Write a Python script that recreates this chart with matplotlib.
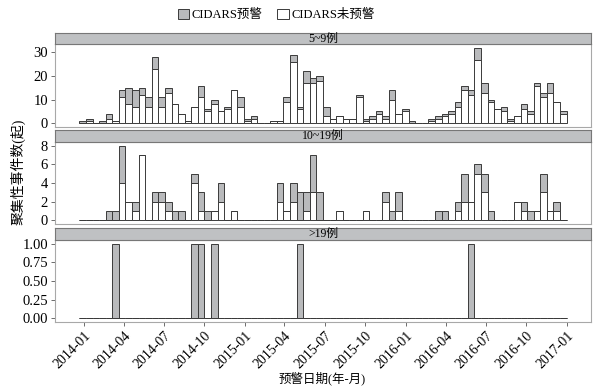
import numpy as np
import pandas as pd
import matplotlib
matplotlib.use("Agg")
import matplotlib.pyplot as plt
import matplotlib.dates as mdates
from matplotlib.patches import Patch

plt.rcParams['font.family'] = ['Liberation Serif', 'Noto Sans CJK SC', 'DejaVu Sans']

# ---------------- data (semi-monthly bins, 2014-01 .. 2016-12) ----------------
panel_titles = ["5~9例", "10~19例", ">19例"]
legend_labels = ["CIDARS预警", "CIDARS未预警"]
x_tick_labels = ["2014-01", "2014-04", "2014-07", "2014-10", "2015-01", "2015-04",
                 "2015-07", "2015-10", "2016-01", "2016-04", "2016-07", "2016-10", "2017-01"]

# panel 1: 5~9 cases
p1_unwarned = [0, 1, 0, 0, 2, 1, 11, 8, 7, 12, 7, 23, 7, 13, 8, 4, 1, 7, 11, 5,
               8, 5, 6, 14, 7, 1, 2, 0, 0, 1, 1, 9, 26, 6, 17, 17, 18, 3, 2, 3,
               2, 2, 11, 1, 2, 4, 2, 10, 4, 5, 0, 0, 0, 1, 2, 3, 4, 7, 14, 12,
               27, 13, 9, 6, 5, 1, 3, 6, 4, 16, 11, 13, 9, 4]
p1_warned = [1, 1, 0, 1, 2, 0, 3, 7, 7, 3, 4, 5, 4, 2, 0, 0, 0, 0, 5, 1,
             2, 0, 1, 0, 4, 1, 1, 0, 0, 0, 0, 2, 3, 1, 5, 2, 2, 4, 0, 0,
             0, 0, 1, 1, 1, 1, 1, 4, 0, 1, 1, 0, 0, 1, 1, 1, 1, 2, 2, 2,
             5, 4, 1, 0, 2, 1, 0, 2, 1, 1, 2, 4, 0, 1]

# panel 2: 10~19 cases
p2_unwarned = [0, 0, 0, 0, 0, 0, 4, 2, 1, 7, 0, 2, 2, 1, 0, 0, 0, 4, 1, 0,
               1, 2, 0, 1, 0, 0, 0, 0, 0, 0, 2, 1, 2, 0, 1, 3, 0, 0, 0, 1,
               0, 0, 0, 1, 0, 0, 2, 0, 1, 0, 0, 0, 0, 0, 0, 0, 0, 1, 2, 2,
               5, 3, 0, 0, 0, 0, 2, 1, 0, 1, 3, 1, 1, 0]
p2_warned = [0, 0, 0, 0, 1, 1, 4, 0, 1, 0, 0, 1, 1, 1, 1, 1, 0, 1, 2, 1,
             0, 2, 0, 0, 0, 0, 0, 0, 0, 0, 2, 0, 2, 3, 2, 4, 3, 0, 0, 0,
             0, 0, 0, 0, 0, 0, 1, 1, 2, 0, 0, 0, 0, 0, 1, 1, 0, 1, 3, 0,
             1, 2, 1, 0, 0, 0, 0, 1, 1, 0, 2, 0, 1, 0]

# panel 3: >19 cases
p3_unwarned = [0] * 74
p3_warned = [0, 0, 0, 0, 0, 1, 0, 0, 0, 0, 0, 0, 0, 0, 0, 0, 0, 1, 1, 0,
             1, 0, 0, 0, 0, 0, 0, 0, 0, 0, 0, 0, 0, 1, 0, 0, 0, 0, 0, 0,
             0, 0, 0, 0, 0, 0, 0, 0, 0, 0, 0, 0, 0, 0, 0, 0, 0, 0, 0, 1,
             0, 0, 0, 0, 0, 0, 0, 0, 0, 0, 0, 0, 0, 0]

panels = [(p1_unwarned, p1_warned, [0, 10, 20, 30], "{:.0f}"),
          (p2_unwarned, p2_warned, [0, 2, 4, 6, 8], "{:.0f}"),
          (p3_unwarned, p3_warned, [0, 0.25, 0.5, 0.75, 1.0], "{:.2f}")]

# ---------------- bins on a date axis ----------------
n_bins = len(p1_unwarned)
t0 = mdates.date2num(pd.Timestamp("2013-12-21"))
t1 = mdates.date2num(pd.Timestamp("2017-01-01"))
edges = np.linspace(t0, t1, n_bins + 1)
centers = (edges[:-1] + edges[1:]) / 2
widths = np.diff(edges)
span = t1 - t0
xlim = (t0 - 0.05 * span, t1 + 0.05 * span)
tick_pos = [mdates.date2num(pd.Timestamp(s + "-01")) for s in x_tick_labels]

# ---------------- figure ----------------
W, H = 611, 386
fig = plt.figure(figsize=(W / 100, H / 100), dpi=100)
fig.patch.set_facecolor("white")

gray_fill = "#b9babc"
edge_c = "#3a3a3a"
strip_fill = "#bfc1c3"
panel_border = "#a8a8a8"

px_left, px_right = 55, 591
panel_px = [(44, 127), (142, 224), (240, 322)]
strip_px = [(33, 44), (130, 142), (228, 240)]

def fr(x0, y0, x1, y1):
    return [x0 / W, 1 - y1 / H, (x1 - x0) / W, (y1 - y0) / H]

for i, ((unw, war, yt, fmt), (py0, py1), (sy0, sy1)) in enumerate(zip(panels, panel_px, strip_px)):
    ax = fig.add_axes(fr(px_left, py0, px_right, py1))
    unw = np.array(unw, float)
    war = np.array(war, float)
    ax.bar(centers, unw, width=widths, color="white", edgecolor=edge_c, linewidth=0.7, zorder=2)
    ax.bar(centers, war, width=widths, bottom=unw, color=gray_fill, edgecolor=edge_c,
           linewidth=0.7, zorder=2)
    ymax = (unw + war).max()
    ax.set_ylim(-0.05 * ymax, ymax * 1.05)
    ax.set_xlim(*xlim)
    ax.set_yticks(yt)
    ax.set_yticklabels([fmt.format(v) for v in yt], fontsize=10.5)
    for s in ax.spines.values():
        s.set_color(panel_border)
        s.set_linewidth(0.8)
    ax.tick_params(axis="y", direction="out", length=3, width=0.6, color="#555555", pad=2)
    ax.set_xticks(tick_pos)
    if i == 2:
        ax.set_xticklabels(x_tick_labels, rotation=45, ha="right", va="top",
                           rotation_mode="anchor", fontsize=10)
        ax.tick_params(axis="x", direction="out", length=3, width=0.6, color="#555555", pad=2)
    else:
        ax.tick_params(axis="x", length=0, labelbottom=False)

    sax = fig.add_axes(fr(px_left, sy0, px_right, sy1))
    sax.set_facecolor(strip_fill)
    sax.set_xticks([])
    sax.set_yticks([])
    for s in sax.spines.values():
        s.set_color("#777777")
        s.set_linewidth(0.8)
    sax.text(0.5, 0.5, panel_titles[i], ha="center", va="center", fontsize=8.5,
             transform=sax.transAxes)

# axis titles
fig.text(322 / W, 1 - 378 / H, "预警日期(年-月)", ha="center", va="center", fontsize=9)
fig.text(18 / W, 1 - 172 / H, "聚集性事件数(起)", ha="center", va="center",
         rotation=90, fontsize=10)

# legend
handles = [Patch(facecolor=gray_fill, edgecolor=edge_c, linewidth=0.7),
           Patch(facecolor="white", edgecolor=edge_c, linewidth=0.7)]
fig.legend(handles, legend_labels, loc="center", bbox_to_anchor=(276 / W, 1 - 15 / H),
           ncol=2, frameon=False, fontsize=9, handlelength=0.9, handleheight=0.9,
           handletextpad=0.2, columnspacing=1.2)

fig.savefig("out.png", dpi=100, facecolor="white")
